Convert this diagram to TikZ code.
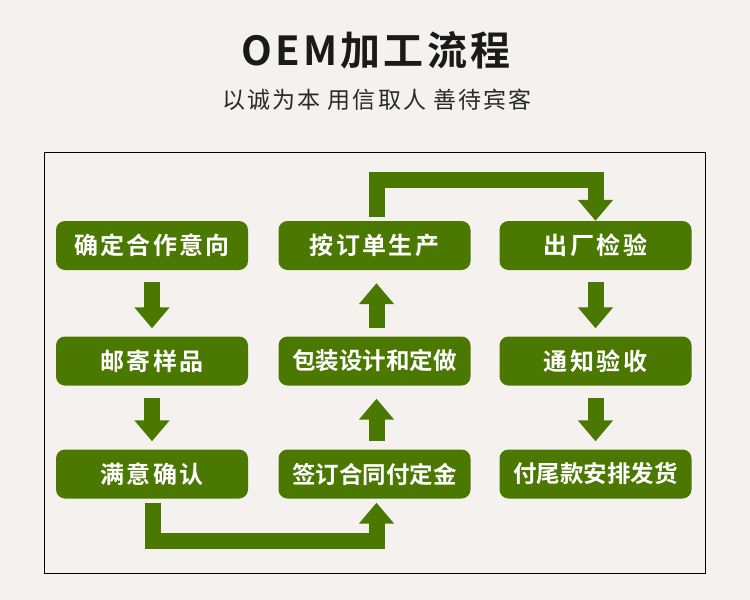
\documentclass[tikz,border=0pt]{standalone}
\usepackage{fontspec}
\setmainfont{Noto Sans CJK SC}[BoldFont={Noto Sans CJK SC Bold}]
\usetikzlibrary{arrows.meta,calc}
\definecolor{bg}{HTML}{F4F1EE}
\definecolor{gr}{HTML}{4A7800}
\definecolor{ttl}{HTML}{1A1A1A}
\definecolor{sub}{HTML}{2A2A2A}
\tikzset{
  box/.style={rectangle, rounded corners=9pt, fill=gr, minimum width=192pt, minimum height=49pt, inner sep=0pt, text=white,
    font=\fontsize{24}{24}\selectfont\bfseries\addfontfeature{LetterSpace=10}},
  boxlong/.style={box, font=\fontsize{23.5}{24}\selectfont\bfseries},
  conn/.style={draw=gr, line width=16pt, line join=miter, -{Triangle[width=34pt,length=21pt]}}
}
\begin{document}
\begin{tikzpicture}[x=1pt,y=-1pt]
\fill[bg] (0,0) rectangle (750,600);
\useasboundingbox (0,0) rectangle (750,600);
\node[text=ttl, font=\fontsize{40}{40}\selectfont\bfseries\addfontfeature{LetterSpace=8}] (title) at (376,50) {OEM加工流程};
\node[text=sub, font=\fontsize{23}{23}\selectfont\addfontfeature{LetterSpace=9}] (subtitle) at (377,100) {以诚为本 用信取人 善待宾客};
\draw[line width=1pt, black] (44,152) rectangle (705,573);
\node[box] (n1) at (152,245.5) {确定合作意向};
\node[box] (n2) at (152,361) {邮寄样品};
\node[box] (n3) at (152,474) {满意确认};
\node[box] (n4) at (374.5,245.5) {按订单生产};
\node[boxlong] (n5) at (374.5,361) {包装设计和定做};
\node[boxlong] (n6) at (374.5,474) {签订合同付定金};
\node[box] (n7) at (595.5,245.5) {出厂检验};
\node[box] (n8) at (595.5,361) {通知验收};
\node[boxlong] (n9) at (595.5,474) {付尾款安排发货};
\draw[conn] ($(n1.south)+(0,12)$) -- ($(n2.north)+(0,-8)$);
\draw[conn] ($(n2.south)+(0,12)$) -- ($(n3.north)+(0,-8)$);
\draw[conn] ($(n7.south)+(0,12)$) -- ($(n8.north)+(0,-8)$);
\draw[conn] ($(n8.south)+(0,12)$) -- ($(n9.north)+(0,-8)$);
\draw[conn] ($(n5.north)+(2,-8)$) -- ($(n4.south)+(2,13)$);
\draw[conn] ($(n6.north)+(2,-8)$) -- ($(n5.south)+(2,13)$);
\draw[conn] ($(n3.south)+(1,4)$) -- ++(0,38) -| ($(n6.south)+(2,4)$);
\draw[conn] ($(n4.north)+(2,-4)$) -- ++(0,-37) -| (n7.north);
\end{tikzpicture}
\end{document}
